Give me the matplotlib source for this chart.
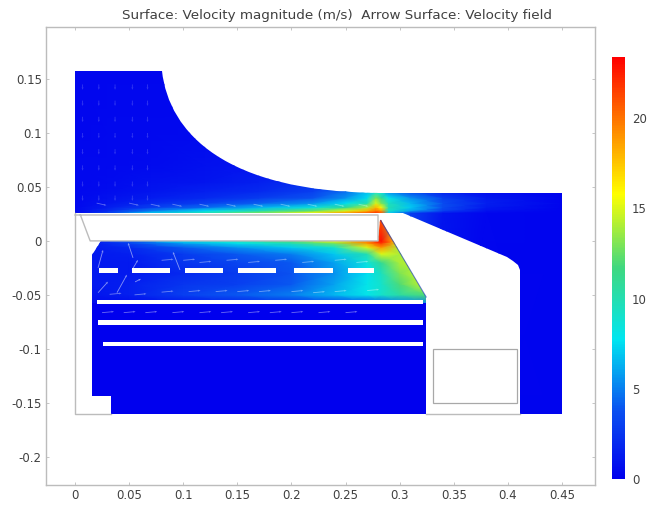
import numpy as np
import matplotlib
matplotlib.use("Agg")
import matplotlib.pyplot as plt
from matplotlib.colors import LinearSegmentedColormap, Normalize
from matplotlib.patches import Polygon, Rectangle, PathPatch
from matplotlib.path import Path
from matplotlib.cm import ScalarMappable

W, H = 647, 507
title = "Surface: Velocity magnitude (m/s)  Arrow Surface: Velocity field"
xticks = [0, 0.05, 0.1, 0.15, 0.2, 0.25, 0.3, 0.35, 0.4, 0.45]
xlabels = ["0", "0.05", "0.1", "0.15", "0.2", "0.25", "0.3", "0.35", "0.4", "0.45"]
yticks = [-0.2, -0.15, -0.1, -0.05, 0, 0.05, 0.1, 0.15]
ylabels = ["-0.2", "-0.15", "-0.1", "-0.05", "0", "0.05", "0.1", "0.15"]
cticks = [0, 5, 10, 15, 20]
vmax = 23.4

# speed sampled above the slab
upper_x = [0, 0.03, 0.07, 0.12, 0.17, 0.22, 0.25, 0.27, 0.278, 0.283, 0.29, 0.31, 0.34, 0.38, 0.45]
upper_y = [-0.2, 0.026, 0.028, 0.031, 0.035, 0.04, 0.046, 0.055, 0.07, 0.1, 0.16]
upper_v = [
    [0.2, 0.2, 0.2, 0.2, 0.2, 0.2, 0.2, 0.2, 0.2, 0.2, 0.2, 0.2, 0.2, 0.2, 0.2],
    [0.5, 3.0, 7.0, 10, 13, 16, 19, 21, 22, 21, 7.0, 3.0, 1.0, 0.3, 0.2],
    [0.5, 2.0, 5.0, 7.5, 10, 12.5, 15, 18, 20, 19, 9.0, 6.0, 3.0, 0.8, 0.2],
    [0.4, 1.4, 3.0, 4.5, 6.5, 8.5, 11, 14, 18, 16, 10, 7.0, 3.5, 1.2, 0.2],
    [0.4, 1.0, 2.0, 3.0, 4.2, 5.5, 7.5, 10, 15, 13, 9.5, 6.5, 3.5, 1.5, 0.2],
    [0.4, 0.8, 1.3, 2.0, 2.8, 3.8, 5.5, 7.5, 13, 11, 8.0, 5.5, 3.0, 1.2, 0.2],
    [0.4, 0.6, 1.0, 1.5, 2.0, 3.0, 4.5, 6.5, 8.0, 8.0, 5.0, 3.0, 1.5, 0.5, 0.2],
    [0.4, 0.5, 0.8, 1.0, 1.5, 2.2, 2.8, 3.5, 3.5, 3.0, 2.0, 1.0, 0.5, 0.3, 0.2],
    [0.4, 0.4, 0.5, 0.8, 1.0, 1.3, 1.5, 1.5, 1.2, 1.0, 0.8, 0.5, 0.3, 0.2, 0.2],
    [0.3, 0.4, 0.4, 0.5, 0.7, 0.8, 0.7, 0.6, 0.5, 0.5, 0.4, 0.3, 0.2, 0.2, 0.2],
    [0.3, 0.3, 0.3, 0.3, 0.3, 0.3, 0.3, 0.3, 0.2, 0.2, 0.2, 0.2, 0.2, 0.2, 0.2],
]

# speed sampled below the slab
lower_x = [0.015, 0.05, 0.1, 0.15, 0.2, 0.24, 0.27, 0.283, 0.30, 0.325]
lower_y = [-0.058, -0.05, -0.04, -0.03, -0.02, -0.012, -0.006, -0.002, 0.0, 0.02]
lower_v = [
    [0.5, 0.5, 1.0, 1.5, 2.0, 2.5, 3.0, 4.0, 5.0, 5.0],
    [1.0, 1.5, 3.0, 4.0, 5.0, 6.5, 8.0, 9.0, 10.5, 12],
    [1.2, 1.5, 2.5, 3.0, 4.0, 6.0, 8.0, 9.0, 12, 15],
    [1.2, 1.2, 2.0, 2.8, 3.8, 5.5, 7.5, 9.5, 13, 15],
    [1.2, 1.2, 2.5, 3.2, 4.0, 6.0, 8.5, 11, 14, 14],
    [1.2, 1.5, 2.8, 4.0, 5.0, 7.0, 10, 15, 14, 13],
    [1.2, 2.0, 4.0, 5.5, 7.0, 9.0, 15, 19, 14, 12],
    [1.2, 3.0, 6.0, 8.0, 10, 13, 19, 22, 15, 10],
    [1.2, 4.0, 7.5, 9.5, 12, 16, 20, 23, 16, 10],
    [1.2, 4.0, 7.5, 9.5, 12, 16, 20, 21, 9.0, 6.0],
]
bottom_speed = 0.05

# domain geometry
curve_start = (0.0804, 0.157)
curve_c1 = (0.0869, 0.1)
curve_c2 = (0.1386, 0.0454)
curve_end = (0.2819, 0.0444)
upper_rest = [(0.45, 0.0444), (0.45, -0.16), (0.411, -0.16), (0.411, -0.027), (0.4095, -0.0225), (0.405, -0.0182),
              (0.399, -0.015), (0.303, 0.026), (0.0, 0.026), (0.0, 0.157)]
lower_outline = [(0.0157, -0.013), (0.024, 0.0), (0.28, 0.0), (0.2815, 0.019), (0.2825, 0.019), (0.3245, -0.052),
                 (0.3245, -0.058), (0.0157, -0.058)]
bottom_outline = [(0.0157, -0.058), (0.3245, -0.058), (0.3245, -0.16), (0.0335, -0.16), (0.0335, -0.144), (0.0157, -0.144)]
slot_x0 = [0.022, 0.0527, 0.1017, 0.151, 0.2022, 0.2518]
slot_x1 = [0.0395, 0.0875, 0.137, 0.186, 0.238, 0.276]
bar_y = [-0.0565, -0.0755, -0.0955]
bar_x0 = [0.0205, 0.0215, 0.026]
bar_x1 = [0.322, 0.322, 0.322]
frame_path = [(0.0, 0.026), (0.0, -0.16), (0.0335, -0.16)]
slab_path = [(0.0, 0.024), (0.28, 0.024), (0.28, 0.0), (0.014, 0.0), (0.005, 0.024)]
outer_bottom = [(0.3245, -0.16), (0.411, -0.16)]
coil_x, coil_y, coil_w, coil_h = 0.3305, -0.1505, 0.0775, 0.05

# arrows
arrow_col_x = [0.007, 0.022, 0.037, 0.053, 0.067]
arrow_row_y = [0.145, 0.13, 0.115, 0.1, 0.085, 0.07, 0.055, 0.042]
wall_x = [0.02, 0.05, 0.07, 0.09, 0.115, 0.14, 0.165, 0.19, 0.215, 0.24, 0.262]
wall_y = [0.035, 0.035, 0.034, 0.034, 0.034, 0.034, 0.034, 0.034, 0.034, 0.034, 0.034]
mid_x = [0.08, 0.1, 0.115, 0.14, 0.16, 0.185, 0.21, 0.24, 0.26]
mid_y = [-0.018, -0.018, -0.02, -0.018, -0.02, -0.018, -0.02, -0.018, -0.02]
gap_x = [0.032, 0.055, 0.08, 0.105, 0.13, 0.15, 0.17, 0.2, 0.22, 0.24, 0.27]
gap_y = [-0.0495, -0.05, -0.0475, -0.047, -0.047, -0.047, -0.047, -0.047, -0.048, -0.047, -0.046]
row_x = [0.025, 0.045, 0.065, 0.09, 0.115, 0.135, 0.16, 0.18, 0.2, 0.225, 0.25]
row_y = [-0.0665, -0.0665, -0.0665, -0.0665, -0.0665, -0.0665, -0.0665, -0.0665, -0.0665, -0.0665, -0.0665]
swirl_x = [0.0213, 0.0388, 0.0527, 0.0213, 0.097, 0.0536, 0.0555]
swirl_y = [-0.048, -0.048, -0.0269, -0.025, -0.0269, -0.0157, -0.038]
swirl_u = [0.0092, 0.0092, 0.0055, 0.0046, -0.0065, -0.0046, 0.0055]
swirl_v = [0.0102, 0.0167, 0.0093, 0.0167, 0.0167, 0.0139, 0.0028]

cmap = LinearSegmentedColormap.from_list(
    "rainbow_fem",
    [(0.0, "#0000ee"), (0.16, "#0a50f0"), (0.33, "#00e6f0"), (0.5, "#3fd880"),
     (0.675, "#ffff00"), (0.84, "#ff8000"), (1.0, "#ff0000")])
norm = Normalize(0, vmax)

fig = plt.figure(figsize=(W / 100, H / 100), dpi=100)
plt.rcParams["font.family"] = "DejaVu Sans"
ax = fig.add_axes([46 / W, 1 - 485 / H, (595 - 46) / W, (485 - 27) / H])
ax.set_xlim(-0.0268, 0.4805)
ax.set_ylim(-0.2262, 0.1982)


def field(x, y, v, clip):
    mesh = ax.pcolormesh(x, y, np.array(v, dtype=float), shading="gouraud", cmap=cmap, norm=norm, zorder=1)
    ax.add_patch(clip)
    mesh.set_clip_path(clip)


upper_verts = [curve_start, curve_c1, curve_c2, curve_end] + upper_rest
upper_codes = [Path.MOVETO, Path.CURVE4, Path.CURVE4, Path.CURVE4] + [Path.LINETO] * len(upper_rest)
upper_clip = PathPatch(Path(upper_verts, upper_codes), fc="none", ec="none", transform=ax.transData)

ax.add_patch(Polygon(bottom_outline, closed=True, fc=cmap(norm(bottom_speed)), ec="none", zorder=1))
field(upper_x, upper_y, upper_v, upper_clip)
field(lower_x, lower_y, lower_v, Polygon(lower_outline, closed=True, fc="none", ec="none", transform=ax.transData))

# diagonal wall edge
ax.plot([0.2825, 0.3245], [0.019, -0.052], color="#1030c0", lw=0.8, alpha=0.6, zorder=2)

for a, b in zip(slot_x0, slot_x1):
    ax.add_patch(Rectangle((a, -0.0295), b - a, 0.0045, fc="white", ec="none", zorder=3))
for yy, a, b in zip(bar_y, bar_x0, bar_x1):
    ax.add_patch(Rectangle((a, yy - 0.002), b - a, 0.004, fc="white", ec="none", zorder=3))

grey = "#bcbcbc"
for path in (frame_path, slab_path, outer_bottom):
    ax.plot(*zip(*path), color=grey, lw=1.0, zorder=4)
ax.add_patch(Rectangle((coil_x, coil_y), coil_w, coil_h, fc="white", ec="#a8a8a8", lw=0.9, zorder=4))

arrow_style = dict(angles="xy", scale_units="xy", scale=1, color="white", width=0.0016, headwidth=2.5, headlength=3,
                   headaxislength=2.5, zorder=5)
gx, gy = np.meshgrid(arrow_col_x, arrow_row_y)
ax.quiver(gx.ravel(), gy.ravel(), np.zeros(gx.size), -0.005 * np.ones(gx.size), alpha=0.18, **arrow_style)
ax.quiver(wall_x, wall_y, 0.009 * np.ones(len(wall_x)), -0.002 * np.ones(len(wall_x)), alpha=0.35, **arrow_style)
for xs, ys in ((mid_x, mid_y), (gap_x, gap_y), (row_x, row_y)):
    ax.quiver(xs, ys, 0.011 * np.ones(len(xs)), 0.001 * np.ones(len(xs)), alpha=0.4, **arrow_style)
ax.quiver(swirl_x, swirl_y, swirl_u, swirl_v, alpha=0.5, **arrow_style)

ax.set_xticks(xticks)
ax.set_xticklabels(xlabels)
ax.set_yticks(yticks)
ax.set_yticklabels(ylabels)
ax.tick_params(direction="in", top=True, right=True, length=2.5, width=0.6, color=grey, labelcolor="#404040",
               labelsize=8.5)
ax.tick_params(axis="x", pad=3)
ax.tick_params(axis="y", pad=3)
for s in ax.spines.values():
    s.set_color(grey)
    s.set_linewidth(1.0)

fig.text(337 / W, 1 - 16 / H, title, ha="center", va="center", fontsize=9.7, color="#404040")

cax = fig.add_axes([612 / W, 1 - 479 / H, 13 / W, 422 / H])
cb = fig.colorbar(ScalarMappable(norm=norm, cmap=cmap), cax=cax)
cb.set_ticks(cticks)
cb.ax.tick_params(length=0, labelcolor="#404040", labelsize=8.5, pad=5)
cb.outline.set_visible(False)

fig.savefig("out.png", dpi=100)
